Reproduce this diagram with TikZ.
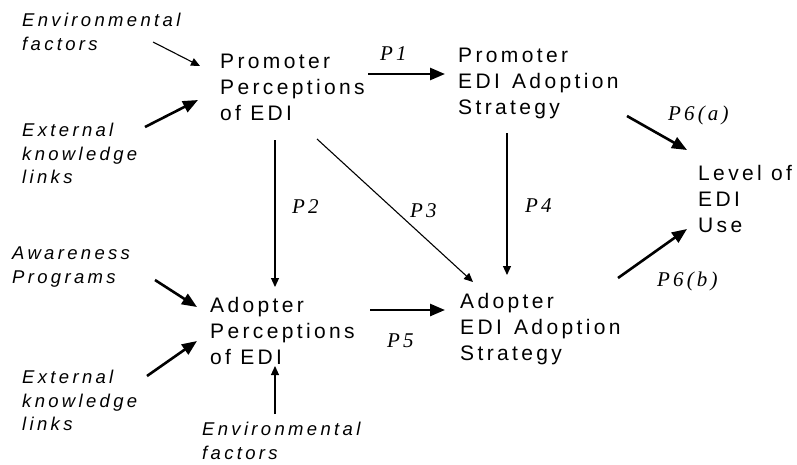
\documentclass[tikz,border=0pt]{standalone}
\usepackage{fontspec}
\setmainfont{Liberation Sans}
\newfontfamily\boxfont{Liberation Sans}[LetterSpace=16]
\newfontfamily\notefont{Liberation Sans}[LetterSpace=18]
\newfontfamily\pathfont{Liberation Serif}[LetterSpace=15]
\usetikzlibrary{arrows.meta}

\tikzset{
  construct/.style={anchor=north west, inner sep=0pt, align=left,
    font=\boxfont\fontsize{21}{26}\selectfont},
  factor/.style={anchor=north west, inner sep=0pt, align=left,
    font=\notefont\itshape\fontsize{18.5}{23.5}\selectfont},
  plabel/.style={anchor=base west, inner sep=0pt,
    font=\pathfont\itshape\fontsize{21}{24}\selectfont},
  thinarrow/.style={line width=1.1pt, -{Triangle[length=9pt,width=8pt]}},
  thickarrow/.style={line width=2.6pt, -{Triangle[length=15pt,width=12pt]}},
}

\begin{document}
\begin{tikzpicture}[x=1pt,y=-1pt]
  \fill[white] (0,0) rectangle (797,464);
  \useasboundingbox (0,0) rectangle (797,464);

  % constructs
  \node[construct] (promP) at (220,54)  {Promoter\\Perceptions\\of EDI};
  \node[construct] (promS) at (458,48)  {Promoter\\EDI\hspace{3pt} Adoption\\Strategy};
  \node[construct] (level) at (698,165) {Level of\\EDI\\Use};
  \node[construct] (adoP)  at (210,297) {Adopter\\Perceptions\\of EDI};
  \node[construct] (adoS)  at (460,293) {Adopter\\EDI\hspace{3pt} Adoption\\Strategy};

  % antecedent factors
  \node[factor] (envA) at (22,13)  {Environmental\\factors};
  \node[factor] (extA) at (22,123) {External\\knowledge\\links};
  \node[factor] (awr)  at (12,247) {Awareness\\Programs};
  \node[factor] (extB) at (22,370) {External\\knowledge\\links};
  \node[factor] (envB) at (202,422) {Environmental\\factors};

  % proposition labels
  \node[plabel] (p1)  at (380,60)  {P1};
  \node[plabel] (p2)  at (292,213) {P2};
  \node[plabel] (p3)  at (410,217) {P3};
  \node[plabel] (p4)  at (525,212) {P4};
  \node[plabel] (p5)  at (387,347) {P5};
  \node[plabel] (p6a) at (668,120) {P6(a)};
  \node[plabel] (p6b) at (657,286) {P6(b)};

  % connector end points
  \coordinate (envA-o)  at (153,42);
  \coordinate (promP-a) at (200,66);
  \coordinate (extA-o)  at (145,127);
  \coordinate (promP-b) at (198,100);
  \coordinate (promP-e) at (368,74);
  \coordinate (promS-w) at (445,74);
  \coordinate (promP-s) at (275,140);
  \coordinate (adoP-n)  at (275,287);
  \coordinate (promP-se) at (317,139);
  \coordinate (adoS-nw) at (473,282);
  \coordinate (promS-s) at (507,133);
  \coordinate (adoS-n)  at (507,275);
  \coordinate (promS-se) at (627,116);
  \coordinate (level-nw) at (687,150);
  \coordinate (adoS-ne) at (618,278);
  \coordinate (level-sw) at (687,229);
  \coordinate (awr-o)   at (155,280);
  \coordinate (adoP-a)  at (197,307);
  \coordinate (extB-o)  at (147,376);
  \coordinate (adoP-b)  at (197,341);
  \coordinate (adoP-e)  at (370,310);
  \coordinate (adoS-w)  at (445,310);
  \coordinate (envB-o)  at (275,414);
  \coordinate (adoP-s)  at (275,366);

  % connectors
  \draw[thinarrow]  (envA-o) -- (promP-a);
  \draw[thickarrow] (extA-o) -- (promP-b);
  \draw[thickarrow] (promP-e) -- (promS-w);
  \draw[thinarrow]  (promP-s) -- (adoP-n);
  \draw[thinarrow]  (promP-se) -- (adoS-nw);
  \draw[thinarrow]  (promS-s) -- (adoS-n);
  \draw[thickarrow] (promS-se) -- (level-nw);
  \draw[thickarrow] (adoS-ne) -- (level-sw);
  \draw[thickarrow] (awr-o) -- (adoP-a);
  \draw[thickarrow] (extB-o) -- (adoP-b);
  \draw[thickarrow] (adoP-e) -- (adoS-w);
  \draw[thinarrow]  (envB-o) -- (adoP-s);
\end{tikzpicture}
\end{document}
